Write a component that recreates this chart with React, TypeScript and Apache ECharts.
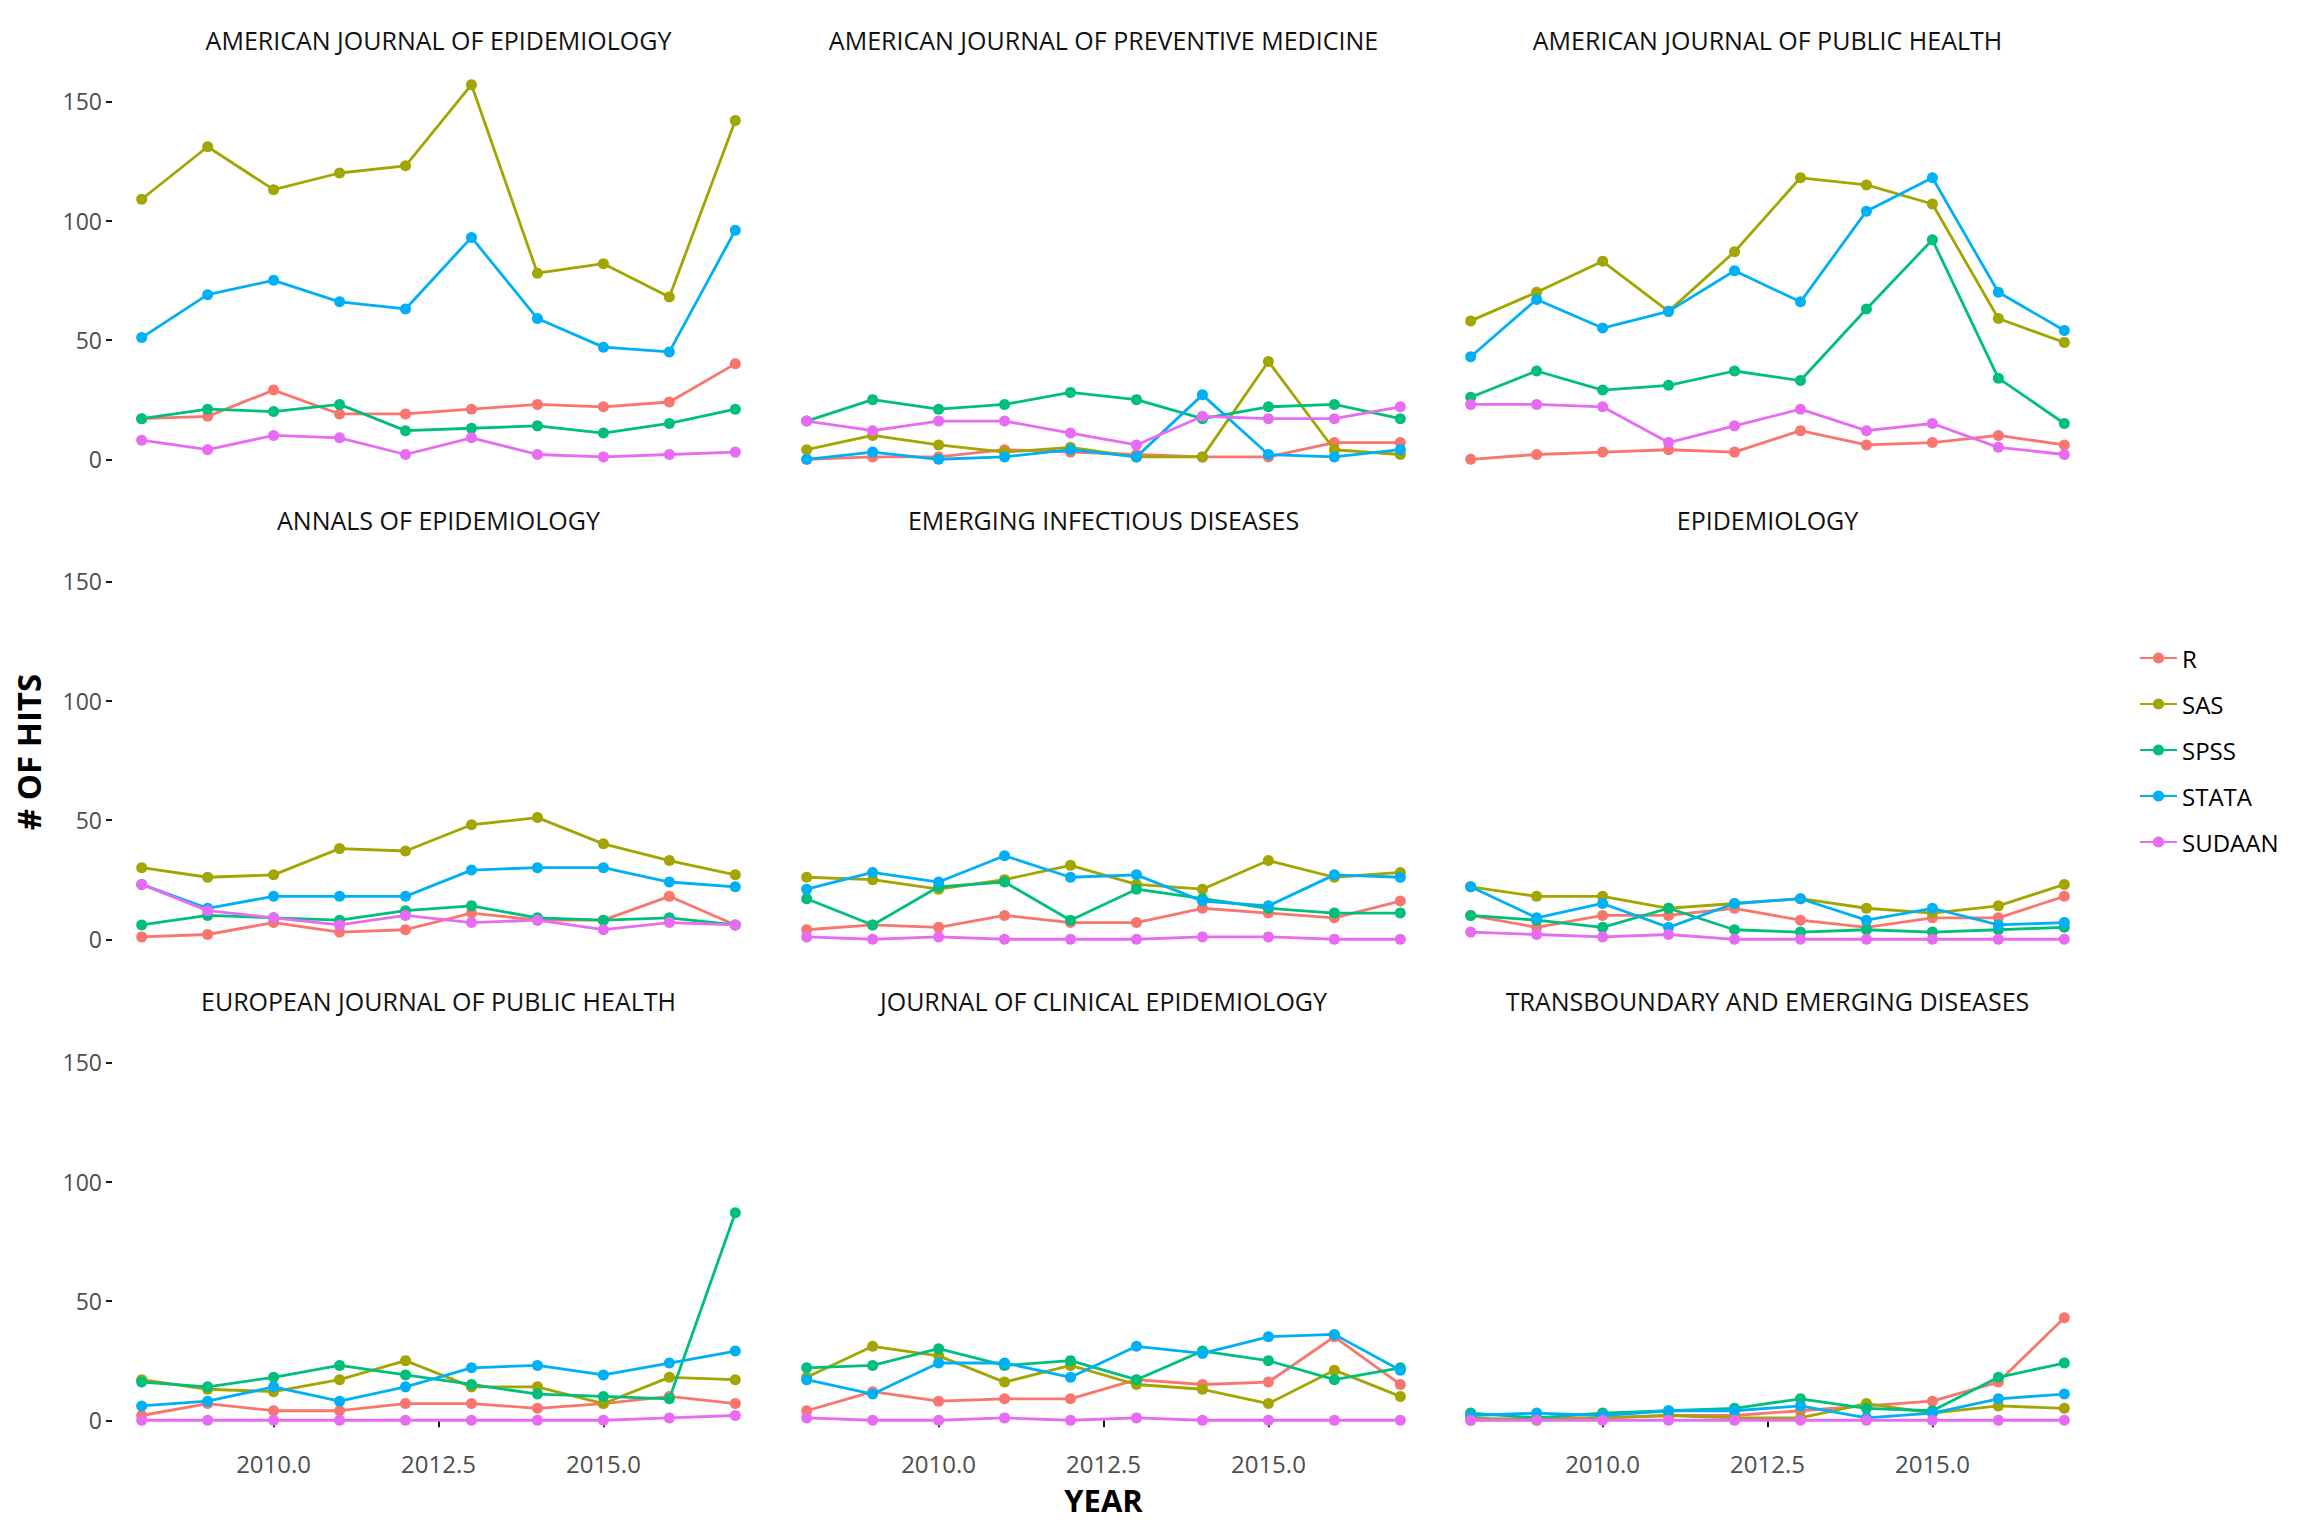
import React, { useEffect, useRef } from "react";
import * as echarts from "echarts";

const years = [2008, 2009, 2010, 2011, 2012, 2013, 2014, 2015, 2016, 2017];
const softwares = ["R", "SAS", "SPSS", "STATA", "SUDAAN"];
const colors = ["#F8766D", "#A3A500", "#00BF7D", "#00B0F6", "#E76BF3"];
const journals = [
  "AMERICAN JOURNAL OF EPIDEMIOLOGY",
  "AMERICAN JOURNAL OF PREVENTIVE MEDICINE",
  "AMERICAN JOURNAL OF PUBLIC HEALTH",
  "ANNALS OF EPIDEMIOLOGY",
  "EMERGING INFECTIOUS DISEASES",
  "EPIDEMIOLOGY",
  "EUROPEAN JOURNAL OF PUBLIC HEALTH",
  "JOURNAL OF CLINICAL EPIDEMIOLOGY",
  "TRANSBOUNDARY AND EMERGING DISEASES",
];
const yTicks = [0, 50, 100, 150];
const xTicks = [2010, 2012.5, 2015];

// rows: R, SAS, SPSS, STATA, SUDAAN
const ajeHits = [
  [17, 18, 29, 19, 19, 21, 23, 22, 24, 40],
  [109, 131, 113, 120, 123, 157, 78, 82, 68, 142],
  [17, 21, 20, 23, 12, 13, 14, 11, 15, 21],
  [51, 69, 75, 66, 63, 93, 59, 47, 45, 96],
  [8, 4, 10, 9, 2, 9, 2, 1, 2, 3],
];
const ajpmHits = [
  [0, 1, 1, 4, 3, 2, 1, 1, 7, 7],
  [4, 10, 6, 3, 5, 1, 1, 41, 4, 2],
  [16, 25, 21, 23, 28, 25, 17, 22, 23, 17],
  [0, 3, 0, 1, 4, 1, 27, 2, 1, 4],
  [16, 12, 16, 16, 11, 6, 18, 17, 17, 22],
];
const ajphHits = [
  [0, 2, 3, 4, 3, 12, 6, 7, 10, 6],
  [58, 70, 83, 62, 87, 118, 115, 107, 59, 49],
  [26, 37, 29, 31, 37, 33, 63, 92, 34, 15],
  [43, 67, 55, 62, 79, 66, 104, 118, 70, 54],
  [23, 23, 22, 7, 14, 21, 12, 15, 5, 2],
];
const annalsHits = [
  [1, 2, 7, 3, 4, 11, 8, 8, 18, 6],
  [30, 26, 27, 38, 37, 48, 51, 40, 33, 27],
  [6, 10, 9, 8, 12, 14, 9, 8, 9, 6],
  [23, 13, 18, 18, 18, 29, 30, 30, 24, 22],
  [23, 12, 9, 6, 10, 7, 8, 4, 7, 6],
];
const eidHits = [
  [4, 6, 5, 10, 7, 7, 13, 11, 9, 16],
  [26, 25, 21, 25, 31, 23, 21, 33, 26, 28],
  [17, 6, 22, 24, 8, 21, 17, 13, 11, 11],
  [21, 28, 24, 35, 26, 27, 16, 14, 27, 26],
  [1, 0, 1, 0, 0, 0, 1, 1, 0, 0],
];
const epiHits = [
  [10, 5, 10, 10, 13, 8, 5, 9, 9, 18],
  [22, 18, 18, 13, 15, 17, 13, 11, 14, 23],
  [10, 8, 5, 13, 4, 3, 4, 3, 4, 5],
  [22, 9, 15, 5, 15, 17, 8, 13, 6, 7],
  [3, 2, 1, 2, 0, 0, 0, 0, 0, 0],
];
const ejphHits = [
  [2, 7, 4, 4, 7, 7, 5, 7, 10, 7],
  [17, 13, 12, 17, 25, 14, 14, 7, 18, 17],
  [16, 14, 18, 23, 19, 15, 11, 10, 9, 87],
  [6, 8, 14, 8, 14, 22, 23, 19, 24, 29],
  [0, 0, 0, 0, 0, 0, 0, 0, 1, 2],
];
const jceHits = [
  [4, 12, 8, 9, 9, 17, 15, 16, 35, 15],
  [18, 31, 27, 16, 23, 15, 13, 7, 21, 10],
  [22, 23, 30, 23, 25, 17, 29, 25, 17, 22],
  [17, 11, 24, 24, 18, 31, 28, 35, 36, 21],
  [1, 0, 0, 1, 0, 1, 0, 0, 0, 0],
];
const tbedHits = [
  [0, 1, 1, 2, 2, 4, 6, 8, 16, 43],
  [1, 0, 1, 2, 1, 1, 7, 3, 6, 5],
  [3, 1, 3, 4, 5, 9, 5, 4, 18, 24],
  [2, 3, 2, 4, 4, 6, 1, 3, 9, 11],
  [0, 0, 0, 0, 0, 0, 0, 0, 0, 0],
];
const panelHits = [ajeHits, ajpmHits, ajphHits, annalsHits, eidHits, epiHits, ejphHits, jceHits, tbedHits];

const FONT = "'Open Sans', 'DejaVu Sans', sans-serif";
const colLeft = [112, 777, 1441];
const rowTop = [66, 546, 1027];
const panelW = 653;
const panelH = 412;

export default function App() {
  const ref = useRef<HTMLDivElement>(null);
  useEffect(() => {
    if (!ref.current) return;
    const chart = echarts.init(ref.current, null, { renderer: "svg" });
    const grids: any[] = [];
    const xAxes: any[] = [];
    const yAxes: any[] = [];
    const series: any[] = [];
    const graphics: any[] = [];
    journals.forEach((name, p) => {
      const r = Math.floor(p / 3);
      const c = p % 3;
      grids.push({ left: colLeft[c], top: rowTop[r], width: panelW, height: panelH, containLabel: false });
      xAxes.push({
        type: "value",
        gridIndex: p,
        min: 2007.55,
        max: 2017.45,
        axisLine: { show: false },
        splitLine: { show: false },
        axisTick: {
          show: r === 2,
          customValues: xTicks,
          length: 7,
          lineStyle: { color: "#1a1a1a", width: 2 },
        },
        axisLabel: {
          show: r === 2,
          customValues: xTicks,
          formatter: (v: number) => v.toFixed(1),
          fontFamily: FONT,
          fontSize: 24,
          color: "#4d4d4d",
          margin: 12,
        },
      });
      yAxes.push({
        type: "value",
        gridIndex: p,
        min: -7.85,
        max: 164.85,
        axisLine: { show: false },
        splitLine: { show: false },
        axisTick: {
          show: c === 0,
          customValues: yTicks,
          length: 6,
          lineStyle: { color: "#1a1a1a", width: 2 },
        },
        axisLabel: {
          show: c === 0,
          customValues: yTicks,
          fontFamily: FONT,
          fontSize: 23,
          color: "#4d4d4d",
          margin: 10,
        },
      });
      panelHits[p].forEach((vals, s) => {
        series.push({
          type: "line",
          name: softwares[s],
          xAxisIndex: p,
          yAxisIndex: p,
          data: years.map((y, i) => [y, vals[i]]),
          symbol: "circle",
          symbolSize: 11,
          showSymbol: true,
          color: colors[s],
          lineStyle: { width: 2.8, color: colors[s] },
          itemStyle: { color: colors[s] },
          z: 2 + s,
        });
      });
      graphics.push({
        type: "text",
        x: colLeft[c] + panelW / 2,
        y: rowTop[r] - 26,
        style: {
          text: name,
          fontFamily: FONT,
          fontSize: 25,
          fontWeight: 500,
          fill: "#111",
          textAlign: "center",
          textVerticalAlign: "middle",
        },
      });
    });
    graphics.push({
      type: "text",
      x: colLeft[1] + panelW / 2,
      y: 1500,
      style: {
        text: "YEAR",
        fontFamily: FONT,
        fontSize: 31,
        fontWeight: "bold",
        fill: "#000",
        textAlign: "center",
        textVerticalAlign: "middle",
      },
    });
    graphics.push({
      type: "text",
      x: 28,
      y: rowTop[1] + panelH / 2,
      rotation: Math.PI / 2,
      style: {
        text: "# OF HITS",
        fontFamily: FONT,
        fontSize: 33,
        fontWeight: "bold",
        fill: "#000",
        textAlign: "center",
        textVerticalAlign: "middle",
      },
    });
    chart.setOption({
      animation: false,
      backgroundColor: "#ffffff",
      grid: grids,
      xAxis: xAxes,
      yAxis: yAxes,
      series,
      legend: {
        data: softwares,
        orient: "vertical",
        left: 2134,
        top: 641,
        itemWidth: 37,
        itemHeight: 14,
        itemGap: 22,
        textStyle: { fontFamily: FONT, fontSize: 24, color: "#000" },
      },
      graphic: graphics,
    });
    return () => chart.dispose();
  }, []);
  return (
    <div
      ref={ref}
      style={{ position: "fixed", left: 0, top: 0, width: 2304, height: 1536, background: "#fff" }}
    />
  );
}
